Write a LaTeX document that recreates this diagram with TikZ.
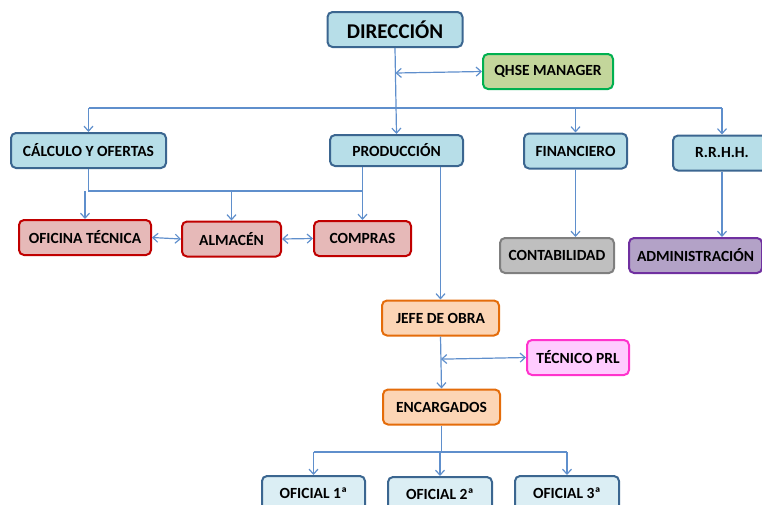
\documentclass[tikz,border=0pt]{standalone}
\usepackage{fontspec}
\setmainfont{Carlito}[BoldFont={Carlito Bold}]
\usepackage{tikz}
\usetikzlibrary{arrows.meta,positioning,calc}
\definecolor{lnblue}{HTML}{5F8FCC}
\definecolor{bdblue}{HTML}{3B6690}
\definecolor{fltop}{HTML}{B7DEE8}
\definecolor{flofi}{HTML}{DBEEF4}
\definecolor{flred}{HTML}{E6B9B8}
\definecolor{bdred}{HTML}{C00000}
\definecolor{flgreen}{HTML}{C3D69B}
\definecolor{bdgreen}{HTML}{00B050}
\definecolor{flgray}{HTML}{BFBFBF}
\definecolor{bdgray}{HTML}{7F7F7F}
\definecolor{flpurple}{HTML}{B3A2C7}
\definecolor{bdpurple}{HTML}{7030A0}
\definecolor{florange}{HTML}{FCD5B5}
\definecolor{bdorange}{HTML}{E46C0A}
\definecolor{flpink}{HTML}{FFCCFF}
\definecolor{bdpink}{HTML}{FF33CC}

\begin{document}
\begin{tikzpicture}[
  x=1pt, y=-1pt,
  font=\fontsize{15.5}{17}\selectfont\bfseries,
  box/.style={draw, line width=2pt, rounded corners=5pt, minimum height=35pt,
              inner sep=2pt, text=black},
  azul/.style={box, draw=bdblue, fill=fltop},
  ofi/.style={box, draw=bdblue, fill=flofi},
  rojo/.style={box, draw=bdred, fill=flred},
  verde/.style={box, draw=bdgreen, fill=flgreen},
  gris/.style={box, draw=bdgray, fill=flgray},
  lila/.style={box, draw=bdpurple, fill=flpurple},
  naranja/.style={box, draw=bdorange, fill=florange},
  rosa/.style={box, draw=bdpink, fill=flpink},
  ln/.style={draw=lnblue, line width=1.2pt},
  ar/.style={ln, -{Straight Barb[length=5pt,width=9pt]}},
  dar/.style={ln, {Straight Barb[length=5pt,width=9pt]}-{Straight Barb[length=5pt,width=9pt]}}
]
\useasboundingbox (0,0) rectangle (762,504);

%--- top ---------------------------------------------------------------------
\node[azul, minimum width=135pt, font=\fontsize{21}{23}\selectfont\bfseries]
  (dir) at (395,29.5) {DIRECCIÓN};
\node[verde, minimum width=130pt] (qhse) at (548,71.5) {QHSE MANAGER};

%--- departments -------------------------------------------------------------
\node[azul, minimum width=155pt] (calc) at (88.5,150.5) {CÁLCULO Y OFERTAS};
\node[azul, minimum width=133pt, minimum height=31pt] (prod) at (396.5,150.5) {PRODUCCIÓN};
\node[azul, minimum width=103pt] (fin) at (575.5,151) {FINANCIERO};
\node[azul, minimum width=98pt] (rrhh) at (722,153) {R.R.H.H.};

\coordinate (bus) at (0,108);
\coordinate (dq) at ($(dir.south)!(qhse.west)!(prod.north)$);
\draw[ln] (calc.north|-bus) -- (rrhh.north|-bus);
\draw[ar] (dir.south) -- (prod.north);
\draw[dar] (dq) -- (qhse.west);
\foreach \d in {calc,fin,rrhh} \draw[ar] (\d.north|-bus) -- (\d.north);

%--- under calculo / produccion ----------------------------------------------
\node[rojo, minimum width=132pt] (otec) at (85,237.5) {OFICINA TÉCNICA};
\node[rojo, minimum width=99pt] (alm) at (231.5,239) {ALMACÉN};
\node[rojo, minimum width=97pt] (comp) at (362.5,238.5) {COMPRAS};

\coordinate (bus2) at (0,191);
\draw[ln] (calc.south) -- (calc.south|-bus2) -- (comp.north|-bus2);
\draw[ar] (comp.north|-prod.south) -- (comp.north);
\foreach \d in {otec,alm} \draw[ar] (\d.north|-bus2) -- (\d.north);
\draw[dar] (otec.east) -- (alm.west);
\draw[dar] (alm.east) -- (comp.west);

%--- finanzas / rrhh ---------------------------------------------------------
\node[gris, minimum width=114pt] (cont) at (557,255.5) {CONTABILIDAD};
\node[lila, minimum width=133pt] (adm) at (695.5,255.5) {ADMINISTRACIÓN};
\draw[ar] (fin.south) -- (fin.south|-cont.north);
\draw[ar] (rrhh.south) -- (rrhh.south|-adm.north);

%--- obra --------------------------------------------------------------------
\node[naranja, minimum width=117pt] (jefe) at (440.5,318) {JEFE DE OBRA};
\node[rosa, minimum width=102pt] (prl) at (578,357.5) {TÉCNICO PRL};
\node[naranja, minimum width=117pt] (enc) at (441.5,407) {ENCARGADOS};
\draw[ar] (jefe.north|-prod.south) -- (jefe.north);
\draw[ar] (jefe.south) -- (enc.north);
\coordinate (jp) at ($(jefe.south)!(prl.west)!(enc.north)$);
\draw[dar] (jp) -- (prl.west);

%--- oficiales ---------------------------------------------------------------
\node[ofi, minimum width=103pt] (of1) at (313.5,493.5) {OFICIAL 1ª};
\node[ofi, minimum width=104pt] (of2) at (440,494.5) {OFICIAL 2ª};
\node[ofi, minimum width=104pt] (of3) at (567,493.5) {OFICIAL 3ª};
\coordinate (bus3) at (0,452);
\draw[ln] (enc.south) -- (enc.south|-bus3);
\draw[ln] (of1.north|-bus3) -- (of3.north|-bus3);
\foreach \d in {of1,of2,of3} \draw[ar] (\d.north|-bus3) -- (\d.north);
\end{tikzpicture}
\end{document}
